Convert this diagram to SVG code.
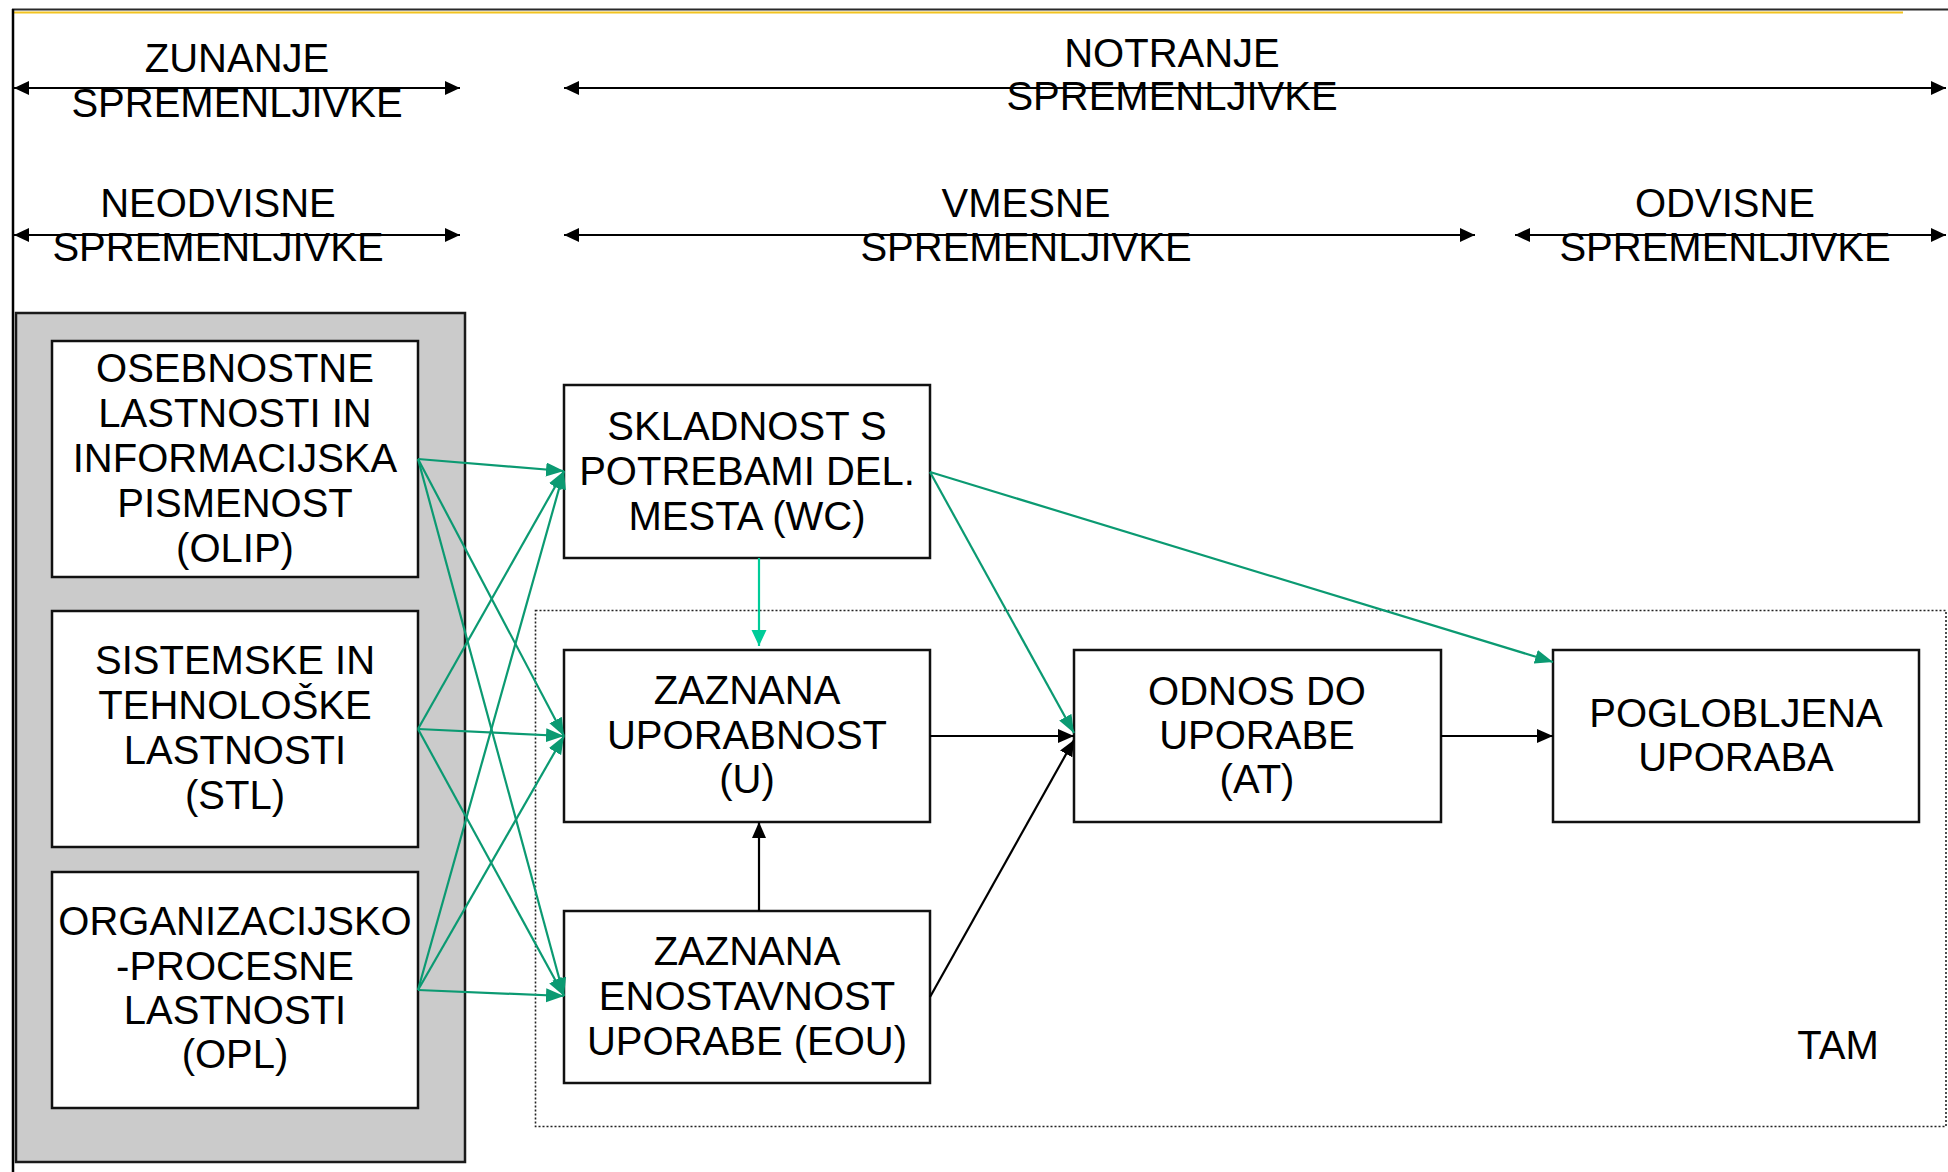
<svg xmlns="http://www.w3.org/2000/svg" width="1948" height="1172" viewBox="0 0 1948 1172">
<style>
text{font-family:"Liberation Sans",Arial,sans-serif;font-size:40px;fill:#000;text-anchor:middle}
.box{fill:#fff;stroke:#111;stroke-width:2.5}
.axis{stroke:#000;stroke-width:2.2;fill:none}
.g{stroke:#0b9a72;stroke-width:2.2;fill:none;marker-end:url(#gh)}
.lg{stroke:#00cc99;stroke-width:2.2;fill:none;marker-end:url(#lh)}
.b{stroke:#000;stroke-width:2.2;fill:none;marker-end:url(#bh)}
</style>
<defs>
<marker id="ah" markerUnits="userSpaceOnUse" markerWidth="16" markerHeight="15" refX="15" refY="7" orient="auto-start-reverse"><path d="M0,0 L15,7 L0,14 z" fill="#000"/></marker>
<marker id="bh" markerUnits="userSpaceOnUse" markerWidth="17" markerHeight="15" refX="16" refY="7" orient="auto"><path d="M0,0 L16,7 L0,14 z" fill="#000"/></marker>
<marker id="gh" markerUnits="userSpaceOnUse" markerWidth="19" markerHeight="15" refX="18" refY="7" orient="auto"><path d="M0,0 L18,7 L0,14 z" fill="#0b9a72"/></marker>
<marker id="lh" markerUnits="userSpaceOnUse" markerWidth="17" markerHeight="16" refX="16" refY="7.5" orient="auto"><path d="M0,0 L16,7.5 L0,15 z" fill="#00cc99"/></marker>
</defs>
<rect width="1948" height="1172" fill="#fff"/>
<g id="frame">
<line x1="12" y1="9.5" x2="1948" y2="9.5" stroke="#2a2a2a" stroke-width="2"/>
<line x1="12" y1="12.5" x2="1903" y2="12.5" stroke="#f2c320" stroke-width="2"/>
<line x1="13" y1="9" x2="13" y2="1172" stroke="#000" stroke-width="2.5"/>
</g>
<g id="axes">
<line class="axis" x1="14" y1="88" x2="460" y2="88" marker-start="url(#ah)" marker-end="url(#ah)"/>
<line class="axis" x1="564" y1="88" x2="1946" y2="88" marker-start="url(#ah)" marker-end="url(#ah)"/>
<line class="axis" x1="14" y1="235" x2="460" y2="235" marker-start="url(#ah)" marker-end="url(#ah)"/>
<line class="axis" x1="564" y1="235" x2="1475" y2="235" marker-start="url(#ah)" marker-end="url(#ah)"/>
<line class="axis" x1="1515" y1="235" x2="1946" y2="235" marker-start="url(#ah)" marker-end="url(#ah)"/>
<text x="237" y="72">ZUNANJE</text><text x="237" y="117">SPREMENLJIVKE</text>
<text x="1172" y="67">NOTRANJE</text><text x="1172" y="110">SPREMENLJIVKE</text>
<text x="218" y="217">NEODVISNE</text><text x="218" y="261">SPREMENLJIVKE</text>
<text x="1026" y="217">VMESNE</text><text x="1026" y="261">SPREMENLJIVKE</text>
<text x="1725" y="217">ODVISNE</text><text x="1725" y="261">SPREMENLJIVKE</text>
</g>
<g id="external-group">
<rect x="16" y="313" width="449" height="849" fill="#cbcbcb" stroke="#1a1a1a" stroke-width="2.5"/>
</g>
<g id="tam">
<rect x="535.5" y="610.5" width="1410.5" height="516" fill="none" stroke="#222" stroke-width="1.6" stroke-dasharray="2 2"/>
<text x="1838" y="1059">TAM</text>
</g>
<g id="olip">
<rect class="box" x="52" y="341" width="366" height="236"/>
<text x="235" y="382">OSEBNOSTNE</text>
<text x="235" y="427">LASTNOSTI IN</text>
<text x="235" y="472">INFORMACIJSKA</text>
<text x="235" y="517">PISMENOST</text>
<text x="235" y="562">(OLIP)</text>
</g>
<g id="stl">
<rect class="box" x="52" y="611" width="366" height="236"/>
<text x="235" y="674">SISTEMSKE IN</text>
<text x="235" y="719">TEHNOLOŠKE</text>
<text x="235" y="764">LASTNOSTI</text>
<text x="235" y="809">(STL)</text>
</g>
<g id="opl">
<rect class="box" x="52" y="872" width="366" height="236"/>
<text x="235" y="935">ORGANIZACIJSKO</text>
<text x="235" y="980">-PROCESNE</text>
<text x="235" y="1024">LASTNOSTI</text>
<text x="235" y="1068">(OPL)</text>
</g>
<g id="wc">
<rect class="box" x="564" y="385" width="366" height="173"/>
<text x="747" y="440">SKLADNOST S</text>
<text x="747" y="485">POTREBAMI DEL.</text>
<text x="747" y="530">MESTA (WC)</text>
</g>
<g id="u">
<rect class="box" x="564" y="650" width="366" height="172"/>
<text x="747" y="704">ZAZNANA</text>
<text x="747" y="749">UPORABNOST</text>
<text x="747" y="793">(U)</text>
</g>
<g id="eou">
<rect class="box" x="564" y="911" width="366" height="172"/>
<text x="747" y="965">ZAZNANA</text>
<text x="747" y="1010">ENOSTAVNOST</text>
<text x="747" y="1055">UPORABE (EOU)</text>
</g>
<g id="at">
<rect class="box" x="1074" y="650" width="367" height="172"/>
<text x="1257" y="705">ODNOS DO</text>
<text x="1257" y="749">UPORABE</text>
<text x="1257" y="793">(AT)</text>
</g>
<g id="pu">
<rect class="box" x="1553" y="650" width="366" height="172"/>
<text x="1736" y="727">POGLOBLJENA</text>
<text x="1736" y="771">UPORABA</text>
</g>
<g id="connectors">
<line class="g" x1="418" y1="459" x2="564" y2="471"/>
<line class="g" x1="418" y1="459" x2="564" y2="736"/>
<line class="g" x1="418" y1="459" x2="564" y2="996"/>
<line class="g" x1="418" y1="729" x2="564" y2="471"/>
<line class="g" x1="418" y1="729" x2="564" y2="736"/>
<line class="g" x1="418" y1="729" x2="564" y2="996"/>
<line class="g" x1="418" y1="990" x2="564" y2="471"/>
<line class="g" x1="418" y1="990" x2="564" y2="736"/>
<line class="g" x1="418" y1="990" x2="564" y2="996"/>
<line class="lg" x1="759" y1="558" x2="759" y2="646"/>
<line class="b" x1="759" y1="911" x2="759" y2="822"/>
<line class="b" x1="930" y1="736" x2="1074" y2="736"/>
<line class="b" x1="930" y1="997" x2="1074" y2="740"/>
<line class="g" x1="930" y1="472" x2="1074" y2="733"/>
<line class="g" x1="930" y1="472" x2="1553" y2="662"/>
<line class="b" x1="1441" y1="736" x2="1553" y2="736"/>
</g>
</svg>
